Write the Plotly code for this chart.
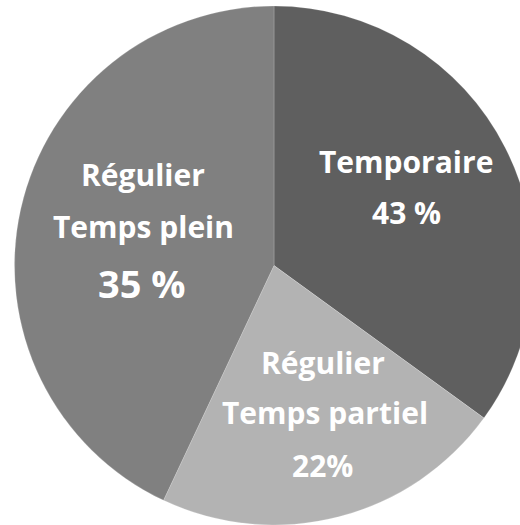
import plotly.graph_objects as go

# Data (slice shares as drawn; printed labels as shown in the picture)
categories = ["Temporaire", "Régulier Temps partiel", "Régulier Temps plein"]
values = [35, 22, 43]
colors = ["#5f5f5f", "#b3b3b3", "#808080"]

label_lines = [
    ["Temporaire", "43 %"],
    ["Régulier", "Temps partiel", "22%"],
    ["Régulier", "Temps plein", "35 %"],
]

W, H = 540, 525
cx, cy, r = 274, 265.5, 259.5

fig = go.Figure(go.Pie(
    labels=categories,
    values=values,
    sort=False,
    direction="clockwise",
    rotation=0,
    marker=dict(colors=colors, line=dict(color="rgba(255,255,255,0.18)", width=1)),
    textinfo="none",
    hoverinfo="label+percent",
    showlegend=False,
    domain=dict(x=[(cx - r) / W, (cx + r) / W], y=[(H - (cy + r)) / H, (H - (cy - r)) / H]),
))

# label placements (pixel centres of each text line) and font sizes
placements = [
    [(406, 161, 30), (406, 212, 30)],
    [(323, 362, 30), (325, 412, 30), (322, 465, 30)],
    [(143, 175, 30), (143, 226, 30), (142, 283, 38)],
]

annotations = []
for lines, places in zip(label_lines, placements):
    for txt, (x, y, s) in zip(lines, places):
        annotations.append(dict(
            x=x / W, y=1 - y / H, xref="paper", yref="paper",
            text=f"<b>{txt}</b>", showarrow=False,
            xanchor="center", yanchor="middle",
            font=dict(family="Open Sans", size=s, color="white"),
        ))

fig.update_layout(
    width=W, height=H,
    margin=dict(l=0, r=0, t=0, b=0),
    paper_bgcolor="white",
    plot_bgcolor="white",
    annotations=annotations,
)

fig.write_html(
    "out.html",
    config={"displayModeBar": False},
    post_script="document.body.style.margin='0';document.body.style.overflow='hidden';document.documentElement.style.overflow='hidden';",
)
